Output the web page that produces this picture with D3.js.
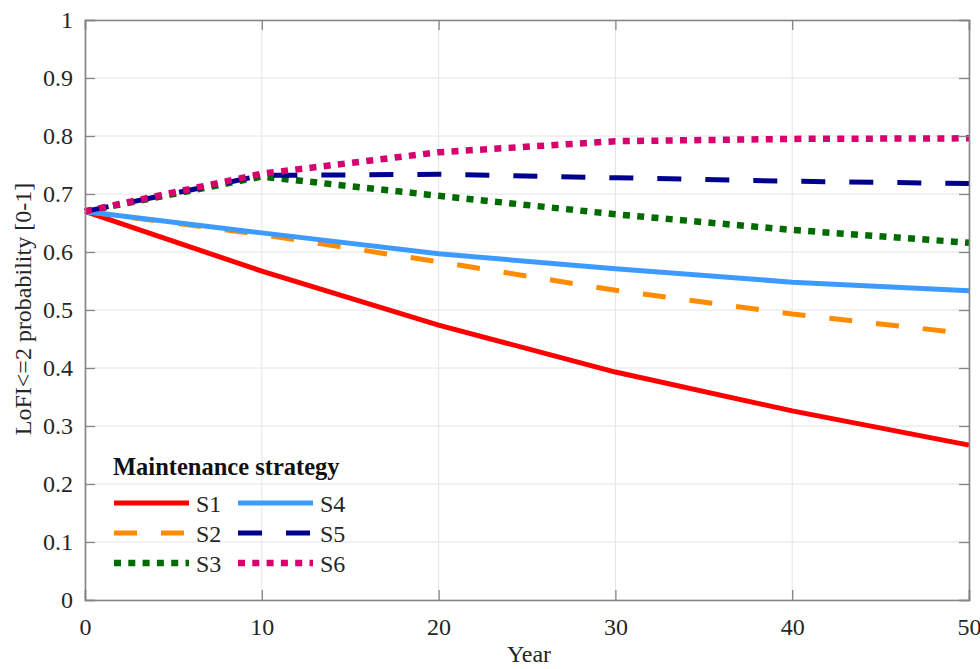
<!DOCTYPE html>
<html>
<head>
<meta charset="utf-8">
<script src="https://cdn.jsdelivr.net/npm/d3@7"></script>
<style>
  html, body { margin: 0; padding: 0; background: #fff; }
  svg { display: block; }
  svg text { font-family: "Liberation Serif", "Times New Roman", serif; }
</style>
</head>
<body>
<svg id="chart" width="980" height="669"></svg>
<script>
// Years at which each strategy is evaluated
const years = [0, 10, 20, 30, 40, 50];

// LoFI<=2 probability per maintenance strategy
const s1 = [0.670, 0.567, 0.474, 0.393, 0.326, 0.267];
const s2 = [0.670, 0.630, 0.583, 0.534, 0.493, 0.459];
const s3 = [0.670, 0.730, 0.697, 0.665, 0.638, 0.616];
const s4 = [0.670, 0.633, 0.597, 0.571, 0.548, 0.533];
const s5 = [0.670, 0.732, 0.734, 0.728, 0.722, 0.718];
const s6 = [0.670, 0.735, 0.772, 0.791, 0.795, 0.796];

const seriesNames = ["S1", "S2", "S3", "S4", "S5", "S6"];
const seriesValues = [s1, s2, s3, s4, s5, s6];

const xTicks = [0, 10, 20, 30, 40, 50];
const yTicks = [0, 0.1, 0.2, 0.3, 0.4, 0.5, 0.6, 0.7, 0.8, 0.9, 1];

// Line styling for each strategy
const styles = {
  S1: { color: "#ff0000", dash: null,     width: 5 },
  S2: { color: "#ff8c00", dash: "23,24",  width: 5 },
  S3: { color: "#006b00", dash: "7,7.3",  width: 6.5 },
  S4: { color: "#3d9bff", dash: null,     width: 5 },
  S5: { color: "#00008f", dash: "24,24",  width: 5 },
  S6: { color: "#d6006e", dash: "7,7.3",  width: 6.5 }
};

const FONT = "'Liberation Serif', 'Times New Roman', serif";
const FS = "24px";

const svg = d3.select("#chart");
const margin = { left: 85, right: 11, top: 20, bottom: 69 };
const W = 980, H = 669;

const x = d3.scaleLinear().domain([0, 50]).range([margin.left, W - margin.right]);
const y = d3.scaleLinear().domain([0, 1]).range([H - margin.bottom, margin.top]);

const axisColor = "#858585";
const gridColor = "#e4e4e4";

// Grid lines
const grid = svg.append("g");
grid.selectAll("line.gx").data(xTicks).join("line")
  .attr("x1", d => x(d)).attr("x2", d => x(d))
  .attr("y1", y(0)).attr("y2", y(1))
  .attr("stroke", gridColor).attr("stroke-width", 1);
grid.selectAll("line.gy").data(yTicks).join("line")
  .attr("x1", x(0)).attr("x2", x(50))
  .attr("y1", d => y(d)).attr("y2", d => y(d))
  .attr("stroke", gridColor).attr("stroke-width", 1);

// Lines
const line = d3.line().x((d, i) => x(years[i])).y(d => y(d));
const lines = svg.append("g").attr("fill", "none");
seriesNames.forEach((name, k) => {
  const st = styles[name];
  lines.append("path")
    .datum(seriesValues[k])
    .attr("d", line)
    .attr("stroke", st.color)
    .attr("stroke-width", st.width)
    .attr("stroke-dasharray", st.dash)
    .attr("stroke-linejoin", "round");
});

// Axes (box with inward ticks)
const tickLen = 10;
const fmt = d => d3.format("~g")(d);
const axBottom = d3.axisBottom(x).tickValues(xTicks).tickSize(-tickLen).tickPadding(18).tickFormat(fmt);
const axTop = d3.axisTop(x).tickValues(xTicks).tickSize(-tickLen).tickFormat("");
const axLeft = d3.axisLeft(y).tickValues(yTicks).tickSize(-tickLen).tickPadding(12).tickFormat(fmt);
const axRight = d3.axisRight(y).tickValues(yTicks).tickSize(-tickLen).tickFormat("");

function styleAxis(g) {
  g.attr("font-family", FONT).attr("font-size", FS);
  g.select(".domain").attr("stroke", axisColor).attr("stroke-width", 1.6);
  g.selectAll(".tick line").attr("stroke", axisColor).attr("stroke-width", 1.3);
  g.selectAll(".tick text")
    .attr("fill", "#262626")
    .style("font-family", FONT)
    .style("font-size", FS);
}

svg.append("g").attr("transform", `translate(0,${y(0)})`).call(axBottom).call(styleAxis);
svg.append("g").attr("transform", `translate(0,${y(1)})`).call(axTop).call(styleAxis);
svg.append("g").attr("transform", `translate(${x(0)},0)`).call(axLeft).call(styleAxis);
svg.append("g").attr("transform", `translate(${x(50)},0)`).call(axRight).call(styleAxis);

// Axis titles
svg.append("text")
  .attr("x", (x(0) + x(50)) / 2 + 2).attr("y", 662)
  .attr("text-anchor", "middle")
  .attr("fill", "#262626")
  .style("font-size", FS)
  .text("Year");

svg.append("text")
  .attr("transform", `translate(31,${309}) rotate(-90)`)
  .attr("text-anchor", "middle")
  .attr("fill", "#262626")
  .style("font-size", FS)
  .text("LoFI<=2 probability [0-1]");

// Legend
const legend = svg.append("g");
legend.append("text")
  .attr("x", 113).attr("y", 475)
  .attr("fill", "#111")
  .style("font-size", "24.5px")
  .style("font-weight", "bold")
  .text("Maintenance strategy");

const legendCols = [
  { names: ["S1", "S2", "S3"], x0: 114 },
  { names: ["S4", "S5", "S6"], x0: 238 }
];
const rowY = [503, 533, 563];
legendCols.forEach(col => {
  col.names.forEach((name, r) => {
    const st = styles[name];
    legend.append("line")
      .attr("x1", col.x0).attr("x2", col.x0 + 75)
      .attr("y1", rowY[r]).attr("y2", rowY[r])
      .attr("stroke", st.color)
      .attr("stroke-width", st.width)
      .attr("stroke-dasharray", st.dash);
    legend.append("text")
      .attr("x", col.x0 + 82).attr("y", rowY[r] + 9)
      .attr("fill", "#262626")
      .style("font-size", FS)
      .text(name);
  });
});
</script>
</body>
</html>
